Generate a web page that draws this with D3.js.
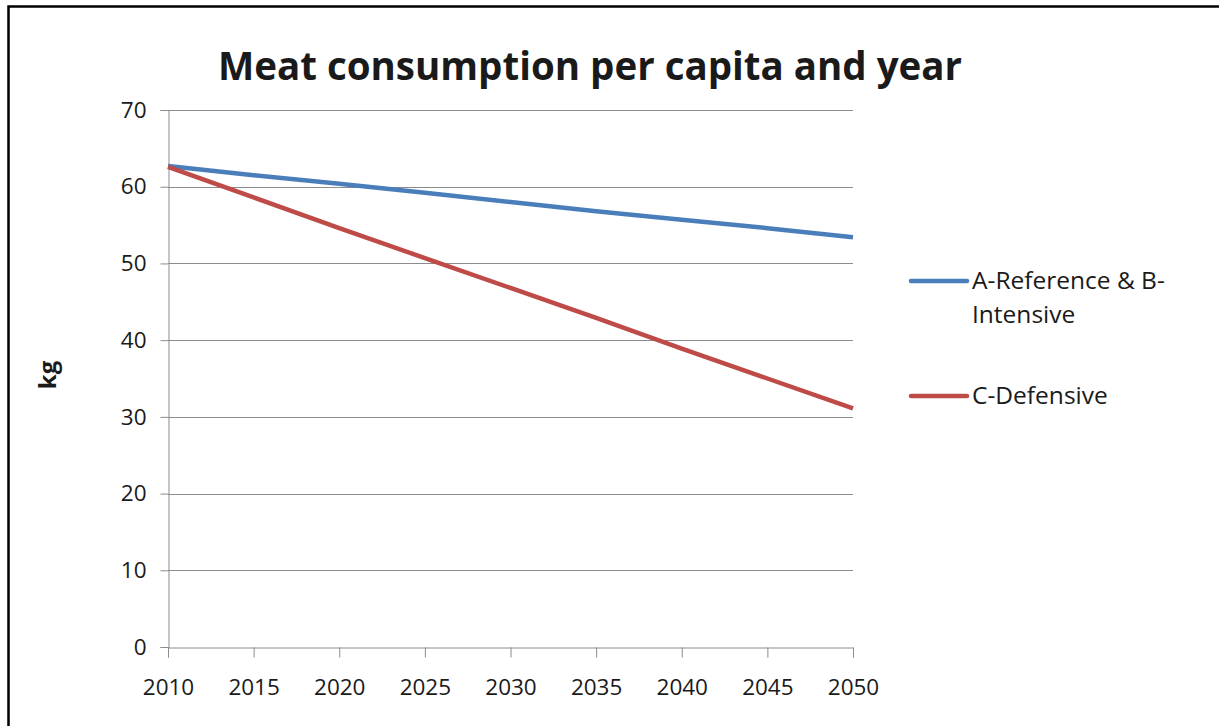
<!DOCTYPE html>
<html>
<head>
<meta charset="utf-8">
<script src="https://cdn.jsdelivr.net/npm/d3@7"></script>
<style>
  html, body { margin: 0; padding: 0; background: #fff; }
  svg { display: block; }
  text { font-family: "Open Sans", "Liberation Sans", sans-serif; fill: #1a1a1a; }
</style>
</head>
<body>
<svg id="chart" width="1219" height="726"></svg>
<script>
// Years on the x axis and per-capita meat consumption (kg) for each scenario
const years = [2010, 2015, 2020, 2025, 2030, 2035, 2040, 2045, 2050];
const referenceIntensive = [62.7, 61.5, 60.4, 59.2, 58.0, 56.8, 55.7, 54.6, 53.4];
const defensive = [62.6, 58.6, 54.6, 50.7, 46.8, 42.9, 38.9, 35.0, 31.1];
const seriesNames = ["A-Reference & B-Intensive", "C-Defensive"];
const seriesColors = ["#4a7ebb", "#be4b48"];
const yTicks = [0, 10, 20, 30, 40, 50, 60, 70];

const svg = d3.select("#chart");
const W = 1219, H = 726;
const plot = { left: 168, right: 853, top: 110, bottom: 647 };
const font = "\"Open Sans\", \"Liberation Sans\", sans-serif";

// outer frame (top and left edges)
svg.append("path")
  .attr("d", `M8.5,${H} L8.5,6.5 L${W},6.5`)
  .attr("fill", "none").attr("stroke", "#000").attr("stroke-width", 2.5);

const x = d3.scaleLinear().domain([2010, 2050]).range([plot.left, plot.right]);
const y = d3.scaleLinear().domain([0, 70]).range([plot.bottom, plot.top]);

// horizontal gridlines
svg.append("g")
  .selectAll("line")
  .data(yTicks.filter(t => t > 0))
  .join("line")
  .attr("x1", plot.left).attr("x2", plot.right)
  .attr("y1", d => Math.round(y(d)) + 0.5).attr("y2", d => Math.round(y(d)) + 0.5)
  .attr("stroke", "#8c8c8c").attr("stroke-width", 1);

// y axis
const yAxis = svg.append("g")
  .attr("transform", `translate(${plot.left + 0.5},0)`)
  .call(d3.axisLeft(y).tickValues(yTicks).tickSize(8).tickPadding(14).tickFormat(d3.format("d")));
yAxis.select(".domain").attr("stroke", "#8c8c8c");
yAxis.selectAll(".tick line").attr("stroke", "#8c8c8c");
yAxis.selectAll(".tick text").attr("font-size", 22.5).attr("fill", "#1a1a1a")
  .attr("font-family", font);

// x axis
const xAxis = svg.append("g")
  .attr("transform", `translate(0,${plot.bottom + 0.5})`)
  .call(d3.axisBottom(x).tickValues(years).tickSize(10).tickPadding(22).tickFormat(d3.format("d")));
xAxis.select(".domain").attr("stroke", "#8c8c8c");
xAxis.selectAll(".tick line").attr("stroke", "#8c8c8c");
xAxis.selectAll(".tick text").attr("font-size", 22.5).attr("fill", "#1a1a1a")
  .attr("font-family", font);

// series lines
const line = d3.line().x((d, i) => x(years[i])).y(d => y(d));
[referenceIntensive, defensive].forEach((vals, k) => {
  svg.append("path")
    .datum(vals)
    .attr("d", line)
    .attr("fill", "none")
    .attr("stroke", seriesColors[k])
    .attr("stroke-width", 4.5)
    .attr("stroke-linejoin", "round");
});

// title
svg.append("text")
  .attr("x", 590).attr("y", 80)
  .attr("text-anchor", "middle")
  .attr("font-size", 38.5).attr("font-weight", "bold")
  .attr("fill", "#000")
  .text("Meat consumption per capita and year");

// y axis title
svg.append("text")
  .attr("transform", "translate(56,375) rotate(-90)")
  .attr("text-anchor", "middle")
  .attr("font-size", 24).attr("font-weight", "bold")
  .attr("fill", "#000")
  .text("kg");

// legend
const legend = svg.append("g");
const legendRows = [
  { y: 281, lines: ["A-Reference & B-", "Intensive"] },
  { y: 396, lines: ["C-Defensive"] }
];
legendRows.forEach((r, k) => {
  legend.append("line")
    .attr("x1", 911).attr("x2", 967)
    .attr("y1", r.y).attr("y2", r.y)
    .attr("stroke", seriesColors[k]).attr("stroke-width", 4.5)
    .attr("stroke-linecap", "round");
  const t = legend.append("text")
    .attr("x", 972).attr("y", r.y + 8)
    .attr("font-size", 24.5);
  r.lines.forEach((s, i) => {
    t.append("tspan").attr("x", 972).attr("dy", i === 0 ? 0 : 34).text(s);
  });
});
</script>
</body>
</html>
